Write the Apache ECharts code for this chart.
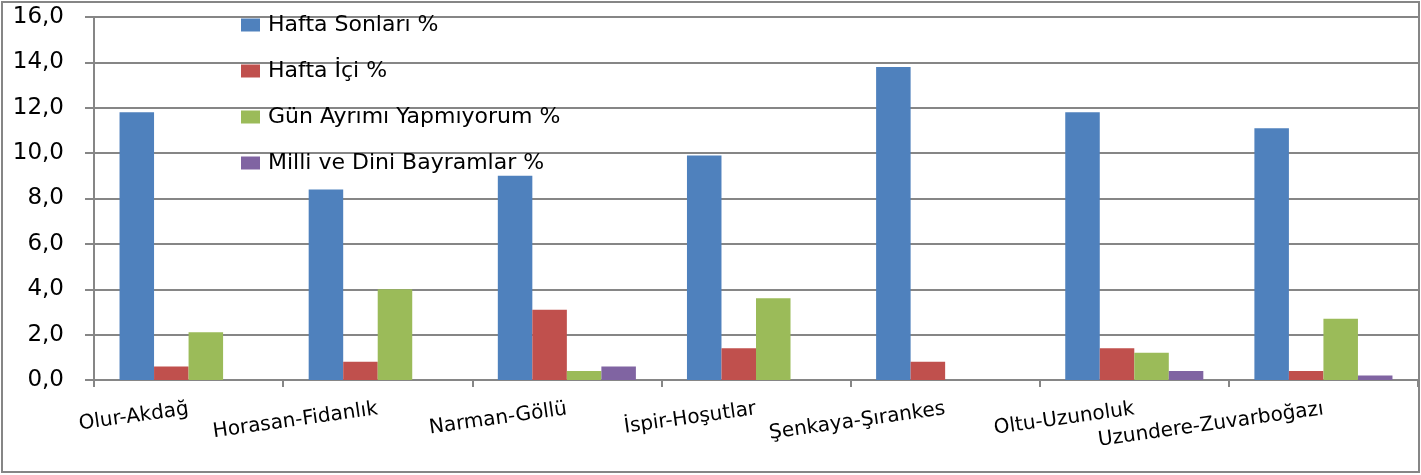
<!DOCTYPE html>
<html>
<head>
<meta charset="utf-8">
<script src="https://cdn.jsdelivr.net/npm/echarts@6/dist/echarts.min.js"></script>
<style>
  html, body { margin: 0; padding: 0; background: #fff; }
  #chart { width: 1421px; height: 475px; }
</style>
</head>
<body>
<div id="chart"></div>
<script>
const categories = ['Olur-Akdağ', 'Horasan-Fidanlık', 'Narman-Göllü', 'İspir-Hoşutlar', 'Şenkaya-Şırankes', 'Oltu-Uzunoluk', 'Uzundere-Zuvarboğazı'];
const seriesNames = ['Hafta Sonları %', 'Hafta İçi %', 'Gün Ayrımı Yapmıyorum %', 'Milli ve Dini Bayramlar %'];
const haftaSonlari = [11.8, 8.4, 9.0, 9.9, 13.8, 11.8, 11.1];
const haftaIci = [0.6, 0.8, 3.1, 1.4, 0.8, 1.4, 0.4];
const gunAyrimi = [2.1, 4.0, 0.4, 3.6, 0, 1.2, 2.7];
const bayramlar = [0, 0, 0.6, 0, 0, 0.4, 0.2];
const colors = ['#4F81BD', '#C0504D', '#9BBB59', '#8064A2'];

const font = 'DejaVu Sans';
const gray = '#868686';

const chart = echarts.init(document.getElementById('chart'));

const makeBar = (name, data, i) => ({
  name,
  type: 'bar',
  data,
  barGap: '0%',
  barCategoryGap: '27%',
  itemStyle: { color: colors[i] },
  animation: false
});

chart.setOption({
  animation: false,
  graphic: [{
    type: 'rect',
    shape: { x: 2, y: 2, width: 1417, height: 470 },
    style: { fill: 'none', stroke: gray, lineWidth: 2 },
    silent: true,
    z: 100
  }],
  legend: {
    orient: 'vertical',
    left: 241,
    top: 14,
    padding: 0,
    itemWidth: 19,
    itemHeight: 13,
    itemGap: 24,
    icon: 'rect',
    textStyle: { fontFamily: font, fontSize: 22, color: '#000', lineHeight: 22, padding: [0, 0, 0, 3] },
    data: seriesNames
  },
  grid: { left: 94, right: 3, top: 17, bottom: 95, containLabel: false },
  xAxis: {
    type: 'category',
    data: categories,
    axisLine: { lineStyle: { color: gray, width: 2 } },
    axisTick: { show: true, length: 7, lineStyle: { color: gray, width: 2 } },
    axisLabel: { rotate: 8, margin: 29, fontFamily: font, fontSize: 20, color: '#000', interval: 0 }
  },
  yAxis: {
    type: 'value',
    min: 0,
    max: 16,
    interval: 2,
    axisLine: { show: true, lineStyle: { color: gray, width: 2 } },
    axisTick: { show: true, length: 9, lineStyle: { color: gray, width: 2 } },
    splitLine: { lineStyle: { color: gray, width: 2 } },
    axisLabel: {
      margin: 30,
      fontFamily: font,
      fontSize: 23,
      color: '#000',
      formatter: v => v.toFixed(1).replace('.', ',')
    }
  },
  series: [
    makeBar(seriesNames[0], haftaSonlari, 0),
    makeBar(seriesNames[1], haftaIci, 1),
    makeBar(seriesNames[2], gunAyrimi, 2),
    makeBar(seriesNames[3], bayramlar, 3)
  ]
});
</script>
</body>
</html>
